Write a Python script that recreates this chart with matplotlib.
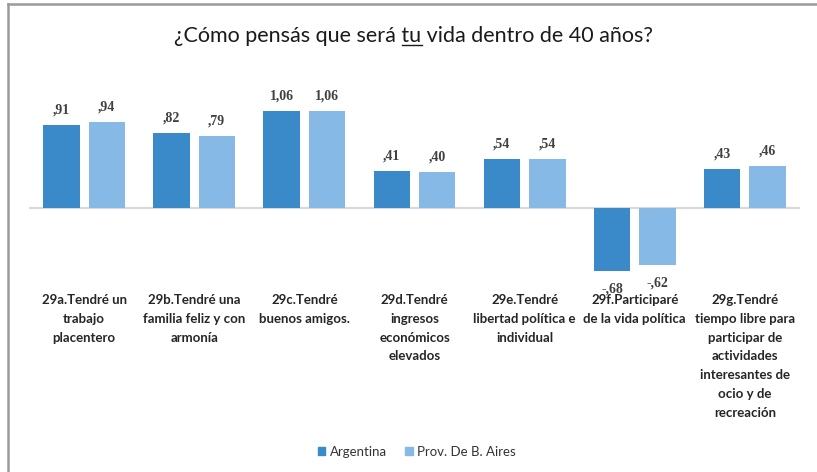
import matplotlib.pyplot as plt
from matplotlib.lines import Line2D
from matplotlib.patches import Patch
import numpy as np

categories = [
    "29a.Tendré un\ntrabajo\nplacentero",
    "29b.Tendré una\nfamilia feliz y con\narmonía",
    "29c.Tendré\nbuenos amigos.",
    "29d.Tendré\ningresos\neconómicos\nelevados",
    "29e.Tendré\nlibertad política e\nindividual",
    "29f.Participaré\nde la vida política",
    "29g.Tendré\ntiempo libre para\nparticipar de\nactividades\ninteresantes de\nocio y de\nrecreación",
]
argentina = [0.91, 0.82, 1.06, 0.41, 0.54, -0.68, 0.43]
prov_ba = [0.94, 0.79, 1.06, 0.40, 0.54, -0.62, 0.46]
series_names = ["Argentina", "Prov. De B. Aires"]
title_pre = "¿Cómo pensás que será "
title_ul = "tu"
title_post = " vida dentro de 40 años?"

c_arg = "#3A89C9"
c_prov = "#86B9E5"
W, H = 817, 472


def fmt(v):
    s = f"{v:.2f}".replace(".", ",")
    if abs(v) < 1:
        s = s.replace("0,", ",", 1)
    return s


fig = plt.figure(figsize=(W / 100, H / 100), dpi=100)
ax = fig.add_axes([29 / W, (H - 290) / H, 771 / W, 195 / H])

x = np.arange(len(categories))
w = 0.33
off = 0.206
ax.bar(x - off, argentina, w, color=c_arg, zorder=2)
ax.bar(x + off, prov_ba, w, color=c_prov, zorder=2)
ax.axhline(0, color="#D9D9D9", lw=1.6, zorder=1)
ax.set_xlim(-0.5, 6.5)
ax.set_ylim(-0.889, 1.238)
ax.axis("off")

for xs, vals in ((x - off, argentina), (x + off, prov_ba)):
    for xi, v in zip(xs, vals):
        ax.annotate(fmt(v), (xi, v), xytext=(0, 11 if v >= 0 else -13),
                    textcoords="offset points", ha="center", va="center",
                    fontsize=10, family="Liberation Serif", weight="bold",
                    color="#404040")

for xi, lab in zip(x, categories):
    ax.text(xi, -4 / 195, lab, transform=ax.get_xaxis_transform(),
            ha="center", va="top", fontsize=9.5, family="Lato", weight="bold",
            color="#262626", linespacing=1.68)

# title with underlined "tu"
tfont = dict(fontsize=15.5, family="Lato", color="#1a1a1a")
full = title_pre + title_ul + title_post
ty = 1 - 42 / H
t = fig.text(414 / W, ty, full, ha="center", va="baseline", **tfont)
r = fig.canvas.get_renderer()
full_w = t.get_window_extent(r).width
tmp1 = fig.text(0, 0, title_pre + title_ul, **tfont)
tmp2 = fig.text(0, 0, title_ul, **tfont)
w1 = tmp1.get_window_extent(r).width
w2 = tmp2.get_window_extent(r).width
tmp1.remove()
tmp2.remove()
left = 414 - full_w / 2
x_end = left + w1
x_start = x_end - w2
fig.add_artist(Line2D([x_start / W, x_end / W], [1 - 45 / H] * 2,
                      transform=fig.transFigure, color="#1a1a1a", lw=1))

handles = [Patch(color=c_arg), Patch(color=c_prov)]
fig.legend(handles, series_names, loc="center", ncol=2,
           bbox_to_anchor=(417 / W, 1 - 452 / H), frameon=False,
           prop={"family": "Lato", "size": 9.5}, labelcolor="#333333",
           handlelength=0.55, handleheight=0.55, handletextpad=0.35,
           columnspacing=1.4)

# chart border (left and top)
fig.add_artist(Line2D([7.5 / W, 7.5 / W], [0, 1 - 3.5 / H],
                      transform=fig.transFigure, color="#9a9a9a", lw=1.8))
fig.add_artist(Line2D([7.5 / W, 1], [1 - 3.5 / H] * 2,
                      transform=fig.transFigure, color="#9a9a9a", lw=1.8))

fig.savefig("out.png", dpi=100)
